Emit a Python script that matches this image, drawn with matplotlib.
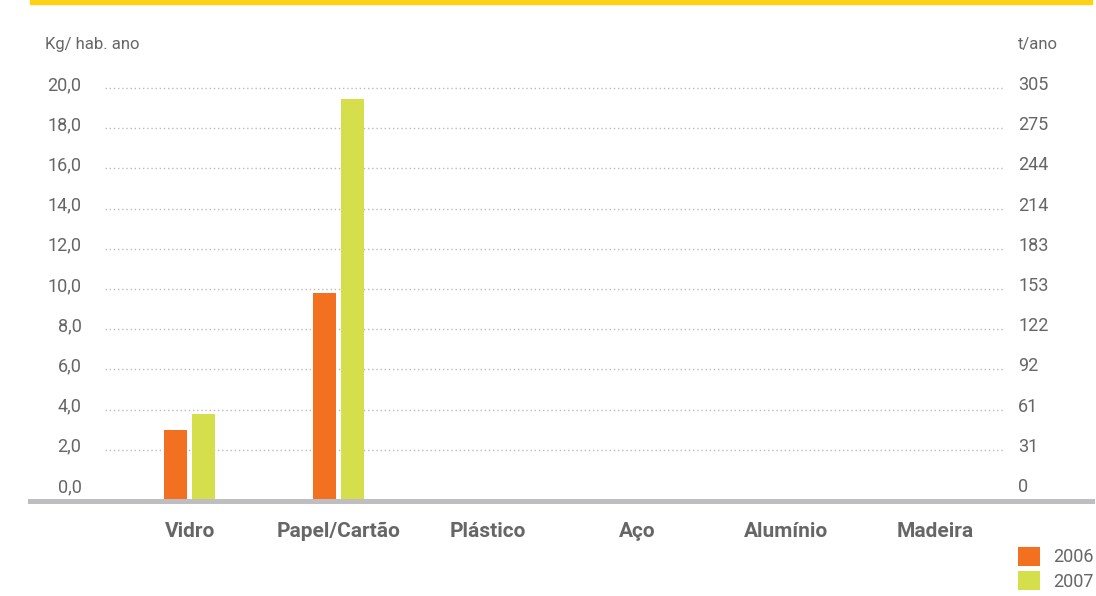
import matplotlib.pyplot as plt
from matplotlib.lines import Line2D
from matplotlib.patches import Rectangle
from matplotlib.transforms import ScaledTranslation
import numpy as np

categories = ["Vidro", "Papel/Cartão", "Plástico", "Aço", "Alumínio", "Madeira"]
# no bars are shown for the last four materials
kg_2006 = [3.0, 9.8, np.nan, np.nan, np.nan, np.nan]
kg_2007 = [3.8, 19.45, np.nan, np.nan, np.nan, np.nan]
left_ticks = [0, 2, 4, 6, 8, 10, 12, 14, 16, 18, 20]
left_labels = ["0,0", "2,0", "4,0", "6,0", "8,0", "10,0", "12,0", "14,0", "16,0", "18,0", "20,0"]
right_labels = ["0", "31", "61", "92", "122", "153", "183", "214", "244", "275", "305"]
years = ["2006", "2007"]

ORANGE = "#F37021"
LIME = "#D5DF4B"
GREY_TXT = "#666666"
W, H = 1096, 596

plt.rcParams["font.family"] = ["Roboto", "DejaVu Sans"]

fig = plt.figure(figsize=(W / 100, H / 100), dpi=100)
ax = fig.add_axes([105 / W, (H - 500) / H, 900 / W, 420 / H])

ymin, ymax = -0.5, 20.4
x = np.arange(len(categories))
bw = 0.154
off = 0.094
ax.bar(x - off, np.array(kg_2006) - ymin, bw, bottom=ymin, color=ORANGE, zorder=3, label=years[0])
ax.bar(x + off, np.array(kg_2007) - ymin, bw, bottom=ymin, color=LIME, zorder=3, label=years[1])

ax.set_xlim(-0.570, 5.470)
ax.set_ylim(ymin, ymax)
ax.set_xticks(x, categories, fontsize=15, fontweight="bold", color=GREY_TXT)
ax.set_yticks(left_ticks, left_labels, fontsize=13, color=GREY_TXT)
ax.tick_params(axis="x", length=0, pad=16)
ax.tick_params(axis="y", length=0, pad=17)
ax.grid(axis="y", linestyle=(0, (1, 2)), color="#BBBBBB", linewidth=1, zorder=0)
ax.get_ygridlines()[0].set_visible(False)
for s in ax.spines.values():
    s.set_visible(False)

ax2 = ax.twinx()
ax2.set_ylim(ymin, ymax)
ax2.set_yticks(left_ticks, right_labels, fontsize=13, color=GREY_TXT)
ax2.tick_params(axis="y", length=0, pad=9.4)
for s in ax2.spines.values():
    s.set_visible(False)

# labels sit a bit above their gridlines
lift = ScaledTranslation(0, 5 / 100, fig.dpi_scale_trans)
for lab in ax.get_yticklabels() + ax2.get_yticklabels():
    lab.set_transform(lab.get_transform() + lift)

fig.text(45 / W, 1 - 44 / H, "Kg/ hab. ano", fontsize=12, color=GREY_TXT, va="center", ha="left")
fig.text(1018 / W, 1 - 44 / H, "t/ano", fontsize=12, color=GREY_TXT, va="center", ha="left")

# yellow band on top, grey base line
fig.patches.append(Rectangle((30 / W, 1 - 4 / H), 1062 / W, 4 / H, transform=fig.transFigure,
                             color="#FCD116", zorder=5))
fig.lines.append(Line2D([30 / W, 1092 / W], [1 - 501 / H] * 2, transform=fig.transFigure,
                        color="#BEBEC2", linewidth=3.6, zorder=5))

fig.legend(loc="upper left", bbox_to_anchor=(1018 / W, 1 - 547 / H), frameon=False,
           fontsize=13, handlelength=1.2, handleheight=1.2, handletextpad=0.75,
           labelspacing=0.28, borderpad=0, borderaxespad=0, labelcolor=GREY_TXT)

fig.savefig("out.png", dpi=100)
